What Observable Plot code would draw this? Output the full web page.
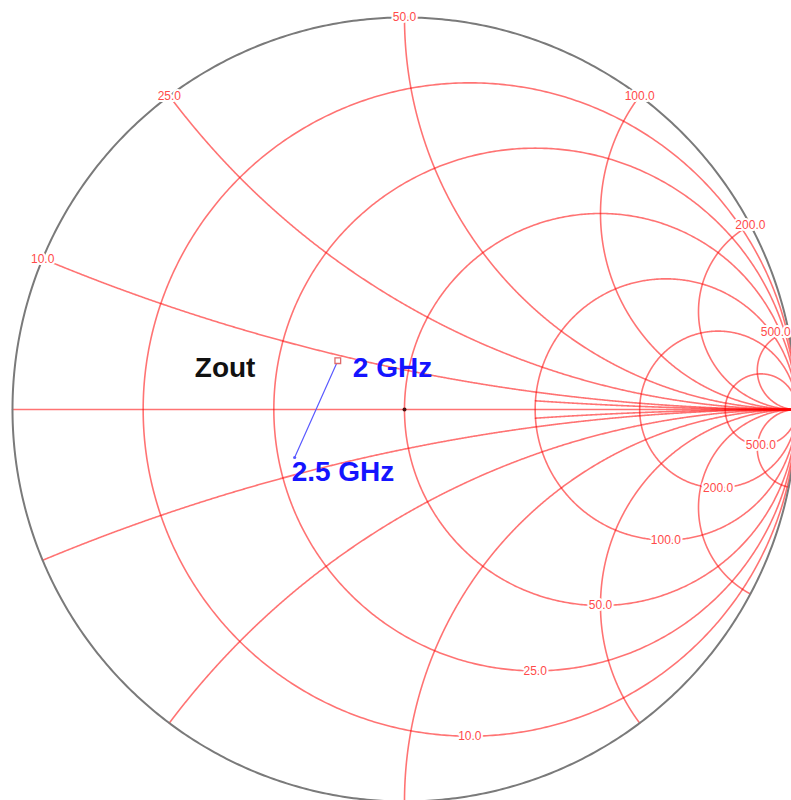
<!DOCTYPE html>
<html><head><meta charset="utf-8">
<script src="https://cdn.jsdelivr.net/npm/d3@7"></script>
<script src="https://cdn.jsdelivr.net/npm/@observablehq/plot@0.6"></script>
<style>html,body{margin:0;padding:0;background:#fff;overflow:hidden}#chart svg{display:block}</style>
</head><body><div id="chart"></div>
<script>
// ---- data ----
const Z0 = 50;
const resistanceValues = [10, 25, 50, 100, 200, 500];
const resistanceLabels = ["10.0", "25.0", "50.0", "100.0", "200.0", "500.0"];
const reactanceValues = [10, 25, 50, 100, 200, 500];
const reactanceLabels = ["10.0", "25.0", "50.0", "100.0", "200.0", "500.0"];
const fineReactanceValues = [5];     // short arcs, only for R >= fineStartR
const fineStartR = 100;
const freqLabels = ["2 GHz", "2.5 GHz"];
const zoutR = [34.5, 27.4];
const zoutX = [9.0, -7.4];
const traceTitle = "Zout";

// ---- Smith transform ----
function gamma(r, x) {
  const d = (r + 1) * (r + 1) + x * x;
  return [(r * r + x * x - 1) / d, (2 * x) / d];
}
const grid = [];
resistanceValues.forEach((R, i) => {
  const r = R / Z0, c = r / (1 + r), rad = 1 / (1 + r);
  for (let k = 0; k <= 720; k++) {
    const t = (k / 720) * 2 * Math.PI;
    grid.push({id: "r" + i, gx: c + rad * Math.cos(t), gy: rad * Math.sin(t)});
  }
});
function arc(id, x, r0) {
  const s0 = r0 / (1 + r0);
  for (let k = 0; k <= 800; k++) {
    const s = s0 + (1 - s0) * k / 800;
    const g = s >= 1 ? [1, 0] : gamma(s / (1 - s), x);
    grid.push({id, gx: g[0], gy: g[1]});
  }
}
reactanceValues.forEach((X, i) => {
  arc("xp" + i, X / Z0, 0);
  arc("xn" + i, -X / Z0, 0);
});
fineReactanceValues.forEach((X, i) => {
  arc("fp" + i, X / Z0, fineStartR / Z0);
  arc("fn" + i, -X / Z0, fineStartR / Z0);
});
grid.push({id: "axis", gx: -1, gy: 0}, {id: "axis", gx: 1, gy: 0});

const rim = d3.range(0, 721).map(k => {
  const t = (k / 720) * 2 * Math.PI;
  return {gx: Math.cos(t), gy: Math.sin(t)};
});

const resLab = resistanceValues.map((R, i) => {
  const r = R / Z0;
  return {gx: r / (1 + r), gy: -1 / (1 + r), text: resistanceLabels[i]};
});
const reaLab = reactanceValues.map((X, i) => {
  const g = gamma(0, X / Z0);
  return {gx: g[0], gy: g[1], text: reactanceLabels[i]};
});

const trace = zoutR.map((R, i) => {
  const g = gamma(R / Z0, zoutX[i] / Z0);
  return {gx: g[0], gy: g[1], label: freqLabels[i]};
});

// ---- layout ----
const W = 791, H = 800, CX = 404, CY = 409, RAD = 392;
const font = "Liberation Sans, Arial, sans-serif";
const labStyle = {x: "gx", y: "gy", text: "text", fill: "#ff4a4a", fontSize: 12,
  fontFamily: font, stroke: "white", strokeWidth: 4};

const plot = Plot.plot({
  width: W, height: H,
  margin: 0,
  x: {domain: [(0 - CX) / RAD, (W - CX) / RAD], axis: null},
  y: {domain: [(CY - H) / RAD, CY / RAD], axis: null},
  style: {background: "white", overflow: "hidden"},
  marks: [
    Plot.line(grid, {x: "gx", y: "gy", z: "id", stroke: "#ff0000", strokeOpacity: 0.55, strokeWidth: 1.6, clip: true}),
    Plot.line(rim, {x: "gx", y: "gy", stroke: "#7a7a7a", strokeWidth: 2, clip: true}),
    Plot.dot([{gx: 0, gy: 0}], {x: "gx", y: "gy", r: 2, fill: "#4a1010"}),
    Plot.text(resLab, labStyle),
    Plot.text(reaLab.slice(0, -1), labStyle),
    // last rim label sits at the right edge: right-align it so it stays inside the picture
    Plot.text(reaLab.slice(-1), {...labStyle, textAnchor: "end", dx: 2}),
    Plot.line(trace, {x: "gx", y: "gy", stroke: "#5a5aff", strokeWidth: 1.2}),
    Plot.dot([trace[0]], {x: "gx", y: "gy", symbol: "square", r: 3.2, stroke: "#e06a6a", strokeWidth: 1.3, fill: "white"}),
    Plot.dot([trace[1]], {x: "gx", y: "gy", r: 1.6, fill: "#5a5aff"}),
    Plot.text([trace[0]], {x: "gx", y: "gy", text: "label", dx: 15, dy: 7, textAnchor: "start",
      fill: "#1414ff", fontSize: 28, fontWeight: "bold", fontFamily: font}),
    Plot.text([trace[1]], {x: "gx", y: "gy", text: "label", dx: -3, dy: 15, textAnchor: "start",
      fill: "#1414ff", fontSize: 28, fontWeight: "bold", fontFamily: font}),
    Plot.text([trace[0]], {x: "gx", y: "gy", text: () => traceTitle, dx: -143, dy: 7, textAnchor: "start",
      fill: "#111", fontSize: 28, fontWeight: "bold", fontFamily: font})
  ]
});
document.getElementById("chart").appendChild(plot);
</script>
</body></html>
